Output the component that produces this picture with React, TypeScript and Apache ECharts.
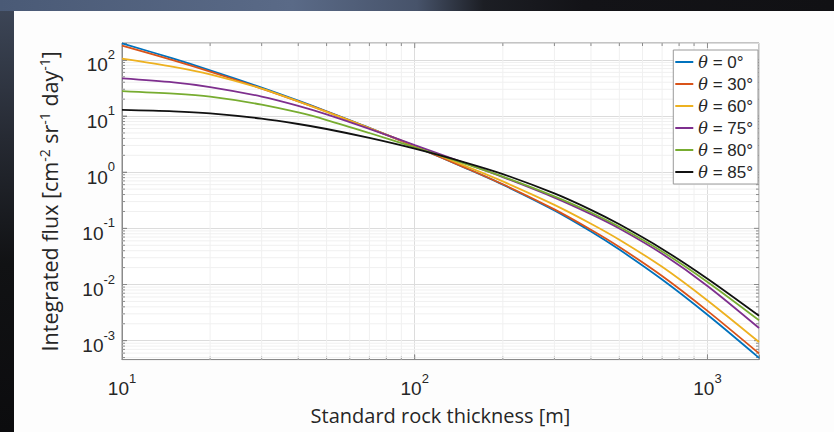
import React, { useEffect, useRef } from 'react';
import * as echarts from 'echarts';

const thickness = [10, 15, 20, 30, 40, 50, 70, 100, 150, 200, 300, 400, 500, 700, 1000, 1500];
const flux0 = [197, 105.1, 65.3, 32.1, 18.78, 12.17, 6.18, 2.89, 1.172, 0.6, 0.2089, 0.0879, 0.0419, 0.01225, 0.00289, 0.000494];
const flux30 = [179.4, 97.9, 61.8, 30.9, 18.3, 11.96, 6.12, 2.89, 1.183, 0.61, 0.2178, 0.0944, 0.0465, 0.01418, 0.003396, 0.000593];
const flux60 = [105.8, 75.2, 55.4, 30.9, 18.26, 11.88, 6.11, 2.96, 1.272, 0.686, 0.2625, 0.121, 0.0628, 0.02062, 0.005195, 0.000944];
const flux75 = [46.9, 39.8, 32.9, 22.28, 15.25, 10.75, 5.92, 3.03, 1.418, 0.819, 0.3532, 0.179, 0.0995, 0.03533, 0.00944, 0.001683];
const flux80 = [27.9, 25.07, 22.13, 15.99, 11.57, 8.49, 4.99, 2.778, 1.392, 0.837, 0.372, 0.192, 0.1067, 0.03876, 0.01113, 0.00231];
const flux85 = [12.87, 12.14, 11.16, 9.0, 7.22, 5.88, 4.08, 2.623, 1.471, 0.926, 0.4187, 0.2135, 0.118, 0.04303, 0.01268, 0.002776];

const seriesNames = ['θ = 0°', 'θ = 30°', 'θ = 60°', 'θ = 75°', 'θ = 80°', 'θ = 85°'];
const seriesColors = ['#0072BD', '#D95319', '#EDB120', '#7E2F8E', '#77AC30', '#111111'];
const seriesValues = [flux0, flux30, flux60, flux75, flux80, flux85];

const xMin = 10;
const xMax = 1500;
const yMin = 4.6e-4;
const yMax = 200;
const xDecades = [10, 100, 1000];
const yDecades = [1e-4, 1e-3, 1e-2, 1e-1, 1, 10, 100];
const minorMantissas = [2, 3, 4, 5, 6, 7, 8, 9];
const xMajorTop = [100, 1000];
const yMajorRight = [1e-3, 1e-2, 1e-1, 1, 10, 100];

const xMinor: number[] = [];
xDecades.forEach((d) => minorMantissas.forEach((m) => { const v = d * m; if (v > xMin && v < xMax) xMinor.push(v); }));
const yMinor: number[] = [];
yDecades.forEach((d) => minorMantissas.forEach((m) => { const v = d * m; if (v > yMin * 1.0001 && v < yMax * 0.9999) yMinor.push(v); }));

const AXIS_COLOR = '#8a8a8a';
const TEXT_COLOR = '#262626';
const MINOR_GRID = '#f0f0f0';
const MAJOR_GRID = '#dcdcdc';

function powLabel(v: number) {
  const lg = Math.log10(v);
  const e = Math.round(lg);
  if (Math.abs(lg - e) > 1e-6) return '';
  return '{b|10}{s|' + e + '}';
}

const labelRich = {
  b: { fontSize: 19, fontFamily: 'Liberation Sans', color: TEXT_COLOR, lineHeight: 34 },
  s: { fontSize: 13, fontFamily: 'Liberation Sans', color: TEXT_COLOR, verticalAlign: 'top', lineHeight: 12 },
};

function xTickRender(len: number, withGrid: boolean) {
  return (params: any, api: any) => {
    const cs = params.coordSys;
    const x = api.coord([api.value(0), 1])[0];
    const top = cs.y;
    const bottom = cs.y + cs.height;
    const children: any[] = [];
    if (withGrid) children.push({ type: 'line', shape: { x1: x, y1: top, x2: x, y2: bottom }, style: { stroke: MINOR_GRID, lineWidth: 1 } });
    children.push({ type: 'line', shape: { x1: x, y1: bottom, x2: x, y2: bottom - len }, style: { stroke: AXIS_COLOR, lineWidth: 1 } });
    children.push({ type: 'line', shape: { x1: x, y1: top, x2: x, y2: top + len }, style: { stroke: AXIS_COLOR, lineWidth: 1 } });
    return { type: 'group', children };
  };
}

function yTickRender(len: number, withGrid: boolean) {
  return (params: any, api: any) => {
    const cs = params.coordSys;
    const y = api.coord([100, api.value(1)])[1];
    const left = cs.x;
    const right = cs.x + cs.width;
    const children: any[] = [];
    if (withGrid) children.push({ type: 'line', shape: { x1: left, y1: y, x2: right, y2: y }, style: { stroke: MINOR_GRID, lineWidth: 1 } });
    children.push({ type: 'line', shape: { x1: left, y1: y, x2: left + len, y2: y }, style: { stroke: AXIS_COLOR, lineWidth: 1 } });
    children.push({ type: 'line', shape: { x1: right, y1: y, x2: right - len, y2: y }, style: { stroke: AXIS_COLOR, lineWidth: 1 } });
    return { type: 'group', children };
  };
}

export default function App() {
  const ref = useRef<HTMLDivElement>(null);

  useEffect(() => {
    if (!ref.current) return;
    const chart = echarts.init(ref.current, undefined, { renderer: 'svg' });

    const lineSeries = seriesNames.map((name, i) => ({
      name,
      type: 'line',
      data: thickness.map((t, j) => [t, seriesValues[i][j]]),
      showSymbol: false,
      symbol: 'none',
      smooth: 0.3,
      z: 5 + i,
      lineStyle: { color: seriesColors[i], width: 1.8 },
      itemStyle: { color: seriesColors[i] },
    }));

    chart.setOption({
      animation: false,
      backgroundColor: 'transparent',
      grid: {
        left: 122,
        top: 43,
        right: 75,
        bottom: 64,
        show: true,
        borderColor: AXIS_COLOR,
        borderWidth: 1,
        backgroundColor: '#ffffff',
      },
      legend: {
        orient: 'vertical',
        right: 76,
        top: 50,
        data: seriesNames,
        icon: 'rect',
        itemWidth: 18,
        itemHeight: 2,
        itemGap: 4,
        padding: [3, 5, 3, 2],
        borderColor: '#9a9a9a',
        borderWidth: 1,
        borderRadius: 0,
        backgroundColor: '#ffffff',
        formatter: (name: string) => name.replace('θ', '{t|θ}'),
        textStyle: {
          fontFamily: 'Liberation Sans',
          fontSize: 17,
          lineHeight: 18,
          color: TEXT_COLOR,
          rich: {
            t: { fontFamily: 'DejaVu Serif', fontStyle: 'italic', fontSize: 16, lineHeight: 18, color: TEXT_COLOR },
          },
        },
      },
      xAxis: {
        type: 'log',
        logBase: 10,
        min: xMin,
        max: xMax,
        name: 'Standard rock thickness [m]',
        nameLocation: 'middle',
        nameGap: 34,
        nameTextStyle: { fontFamily: 'Open Sans', fontSize: 20, lineHeight: 24, color: TEXT_COLOR },
        axisLine: { show: true, lineStyle: { color: AXIS_COLOR } },
        axisTick: { show: true, inside: true, length: 5, lineStyle: { color: AXIS_COLOR } },
        axisLabel: { formatter: powLabel, rich: labelRich, margin: 12, showMinLabel: true, showMaxLabel: true },
        splitLine: { show: true, lineStyle: { color: MAJOR_GRID } },
      },
      yAxis: {
        type: 'log',
        logBase: 10,
        min: yMin,
        max: yMax,
        name: 'Integrated flux [cm{s|-2} sr{s|-1} day{s|-1}]',
        nameLocation: 'middle',
        nameRotate: 90,
        nameGap: 60,
        nameTextStyle: {
          fontFamily: 'Open Sans',
          fontSize: 21.5,
          color: TEXT_COLOR,
          lineHeight: 25,
          rich: { s: { fontFamily: 'Open Sans', fontSize: 14, color: TEXT_COLOR, verticalAlign: 'top', lineHeight: 14 } },
        },
        axisLine: { show: true, lineStyle: { color: AXIS_COLOR } },
        axisTick: { show: true, inside: true, length: 5, lineStyle: { color: AXIS_COLOR } },
        axisLabel: { formatter: powLabel, rich: labelRich, margin: 7, padding: [10, 0, 0, 0] },
        splitLine: { show: true, lineStyle: { color: MAJOR_GRID } },
      },
      series: [
        {
          type: 'custom',
          name: 'xMinor',
          silent: true,
          z: 1,
          clip: false,
          data: xMinor.map((v) => [v, 1]),
          renderItem: xTickRender(3, true),
        },
        {
          type: 'custom',
          name: 'yMinor',
          silent: true,
          z: 1,
          clip: false,
          data: yMinor.map((v) => [100, v]),
          renderItem: yTickRender(3, true),
        },
        {
          type: 'custom',
          name: 'xMajorTop',
          silent: true,
          z: 2,
          clip: false,
          data: xMajorTop.map((v) => [v, 1]),
          renderItem: xTickRender(5, false),
        },
        {
          type: 'custom',
          name: 'yMajorRight',
          silent: true,
          z: 2,
          clip: false,
          data: yMajorRight.map((v) => [100, v]),
          renderItem: yTickRender(5, false),
        },
        ...lineSeries,
      ],
    });

    return () => chart.dispose();
  }, []);

  return (
    <div
      style={{
        position: 'fixed',
        left: 0,
        top: 0,
        width: 834,
        height: 432,
        overflow: 'hidden',
        background: 'linear-gradient(90deg, #4a5a76 0%, #5a6a87 35%, #47536a 50%, #1c1e24 58%, #131317 70%, #111114 100%)',
      }}
    >
      <div
        style={{
          position: 'absolute',
          left: 0,
          top: 11,
          width: 14,
          height: 421,
          background: 'linear-gradient(180deg, #3c4556 0%, #262a33 30%, #111214 60%, #0c0c0e 100%)',
        }}
      />
      <div style={{ position: 'absolute', left: 14, top: 11, width: 820, height: 421, background: '#fdfdfd' }} />
      <div ref={ref} style={{ position: 'absolute', left: 0, top: 0, width: 834, height: 432 }} />
    </div>
  );
}
